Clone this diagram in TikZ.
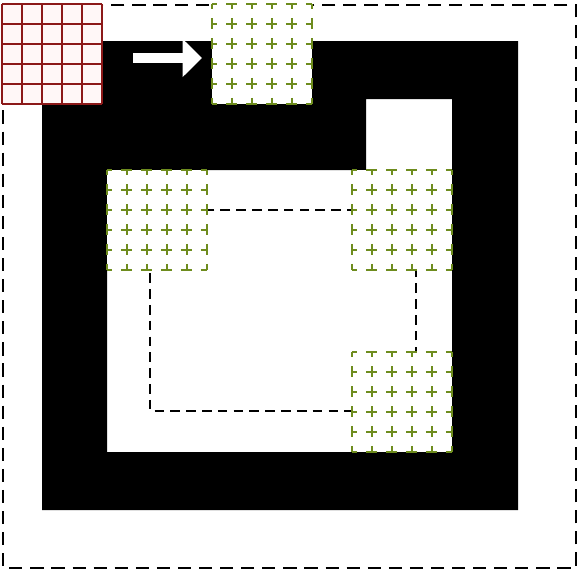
\documentclass[tikz,border=0pt]{standalone}
\usepackage{xcolor}
\usepackage{tikz}
\usetikzlibrary{arrows.meta}
\definecolor{cellred}{RGB}{140,25,25}
\definecolor{cellgreen}{RGB}{110,140,30}

\begin{document}
\begin{tikzpicture}[x=0.02cm, y=-0.02cm,
    wall/.style={fill=black},
    border/.style={draw=black, line width=1.1pt, dash pattern=on 7.5pt off 4.5pt},
    route/.style={draw=black, line width=0.9pt, dash pattern=on 5.5pt off 3.5pt},
    robot/.style={draw=cellred, line width=1.2pt},
    sweep/.style={draw=cellgreen, line width=1.2pt, dash pattern=on 6.2pt off 5.1pt, dash phase=3.1pt}]
    \useasboundingbox (0,0) rectangle (580,572);
    \draw[border] (3,5) rectangle (576,568);
    \fill[wall, even odd rule] (42,41) rectangle (518,510)
        (107,170) -- (366,170) -- (366,99) -- (452,99) -- (452,452) -- (107,452) -- cycle;
    \draw[route] (150,210) rectangle (416,411);
    % cells already covered
    \foreach \x/\y in {212/4, 107/170, 352/170, 352/352} {
        \begin{scope}[shift={(\x,\y)}]
            \fill[white] (0,0) rectangle (100,100);
            \foreach \i in {0,20,...,100} {
                \draw[sweep] (\i,0) -- (\i,100);
                \draw[sweep] (0,\i) -- (100,\i);
            }
        \end{scope}
    }
    % robot footprint
    \begin{scope}[shift={(2,4)}]
        \fill[red!3] (0,0) rectangle (100,100);
        \foreach \i in {0,20,...,100} {
            \draw[robot] (\i,0) -- (\i,100);
            \draw[robot] (0,\i) -- (100,\i);
        }
    \end{scope}
    \coordinate (tail) at (133,58);
    \coordinate (tip) at (202,58);
    \draw[white, line width=5.7pt, -{Triangle[length=11pt,width=21pt]}] (tail) -- (tip);
\end{tikzpicture}
\end{document}
